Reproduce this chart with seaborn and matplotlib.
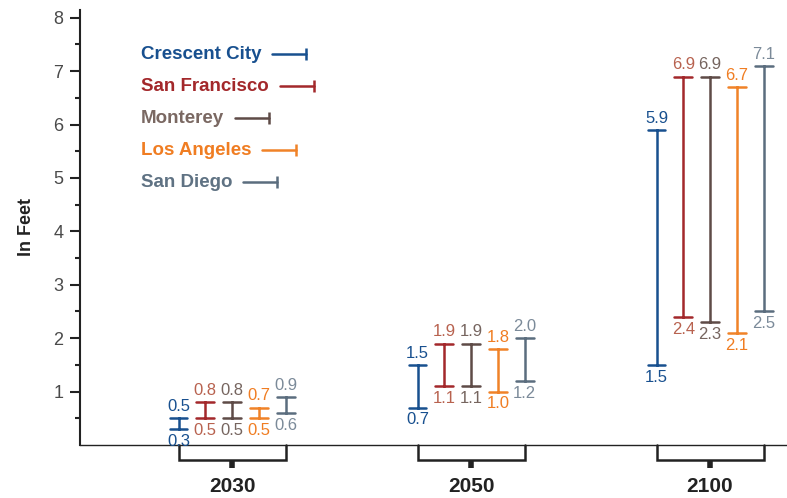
import pandas as pd
import numpy as np
import matplotlib
matplotlib.use("Agg")
import matplotlib.pyplot as plt
import seaborn as sns
from matplotlib.transforms import blended_transform_factory

sns.set_theme(style="ticks")
plt.rcParams['font.family'] = ['Liberation Sans', 'DejaVu Sans']

# data (feet of sea level rise, low / high estimate)
years = ["2030", "2050", "2100"]
cities = ["Crescent City", "San Francisco", "Monterey", "Los Angeles", "San Diego"]
low_2030 = [0.3, 0.5, 0.5, 0.5, 0.6]
high_2030 = [0.5, 0.8, 0.8, 0.7, 0.9]
low_2050 = [0.7, 1.1, 1.1, 1.0, 1.2]
high_2050 = [1.5, 1.9, 1.9, 1.8, 2.0]
low_2100 = [1.5, 2.4, 2.3, 2.1, 2.5]
high_2100 = [5.9, 6.9, 6.9, 6.7, 7.1]

line_colors = ["#18508f", "#a3282b", "#5e4b47", "#f08228", "#5b6d7e"]
value_colors = ["#18508f", "#b8624f", "#76655f", "#f07d22", "#7b8a99"]
legend_colors = ["#18508f", "#a3282b", "#7a6862", "#f07d22", "#5f7283"]

lows = {"2030": low_2030, "2050": low_2050, "2100": low_2100}
highs = {"2030": high_2030, "2050": high_2050, "2100": high_2100}

rows = []
for y in years:
    for i, c in enumerate(cities):
        rows.append({"year": y, "city": c, "value": lows[y][i]})
        rows.append({"year": y, "city": c, "value": highs[y][i]})
df = pd.DataFrame(rows)

fig = plt.figure(figsize=(7.87, 4.98), dpi=100)
ax = fig.add_axes([0.1017, 0.1064, 0.8983, 0.874])

DODGE = 0.448
sns.pointplot(data=df, x="year", y="value", hue="city", order=years,
              hue_order=cities, palette=dict(zip(cities, line_colors)),
              errorbar=lambda v: (v.min(), v.max()), dodge=DODGE,
              capsize=0.075, marker="", linestyle="none",
              err_kws={"linewidth": 1.8}, legend=False, ax=ax)

# value labels above / below each range
step = DODGE / (len(cities) - 1)
for gi, y in enumerate(years):
    for i, c in enumerate(cities):
        xpos = gi - DODGE / 2 + step * i
        ax.annotate(f"{highs[y][i]:.1f}", (xpos, highs[y][i]), xytext=(0, 3),
                    textcoords="offset points", ha="center", va="bottom",
                    fontsize=12, color=value_colors[i])
        ax.annotate(f"{lows[y][i]:.1f}", (xpos, lows[y][i]), xytext=(0, -3.5),
                    textcoords="offset points", ha="center", va="top",
                    fontsize=12, color=value_colors[i])

# brackets under each year group
trans = blended_transform_factory(ax.transData, ax.transAxes)
by = -0.034
for gi in range(len(years)):
    x0, x1 = gi - DODGE / 2, gi + DODGE / 2
    ax.plot([x0, x0, x1, x1], [0, by, by, 0], transform=trans, color="#222222",
            lw=1.8, clip_on=False, solid_joinstyle="miter")
    ax.plot([gi, gi], [by, by - 0.018], transform=trans, color="#222222",
            lw=4, clip_on=False, solid_capstyle="butt")

ax.set_xlim(-0.636, 2.322)
ax.set_ylim(0, 8.15)
ax.set_yticks(range(1, 9))
ax.set_yticks(np.arange(0.5, 8.1, 0.5), minor=True)
ax.tick_params(axis="y", which="major", length=7, width=1.5, color="#222222",
               labelsize=13, labelcolor="#4a4a4a", pad=5)
ax.tick_params(axis="y", which="minor", length=3.5, width=1.5, color="#222222")
ax.set_xticks(range(len(years)))
ax.set_xticklabels(years, fontsize=15, fontweight="bold", color="#222222")
ax.tick_params(axis="x", length=0, pad=23)
ax.set_xlabel("")
ax.set_ylabel("In Feet", fontsize=13, fontweight="bold", color="#222222", labelpad=13)

sns.despine(ax=ax)
ax.spines["left"].set_linewidth(1.5)
ax.spines["left"].set_color("#222222")
ax.spines["bottom"].set_linewidth(1.0)
ax.spines["bottom"].set_color("#222222")

# hand-made legend: city name then a short capped line
texts = []
for i, c in enumerate(cities):
    t = ax.text(0.086, 0.898 - i * 0.0736, c, transform=ax.transAxes,
                fontsize=13.5, fontweight="bold", color=legend_colors[i],
                ha="left", va="center")
    texts.append(t)
fig.canvas.draw()
renderer = fig.canvas.get_renderer()
inv = ax.transAxes.inverted()
for i, t in enumerate(texts):
    bb = t.get_window_extent(renderer)
    yc = (bb.y0 + bb.y1) / 2
    (ax0, ay), (ax1, _) = inv.transform([(bb.x1 + 11, yc), (bb.x1 + 45, yc)])
    ay = 0.898 - i * 0.0736
    ax.plot([ax0, ax1], [ay, ay], transform=ax.transAxes, color=line_colors[i],
            lw=1.8, clip_on=False)
    ax.plot([ax1], [ay], transform=ax.transAxes, marker="|", markersize=8,
            markeredgewidth=1.8, color=line_colors[i], clip_on=False)

fig.savefig("out.png", dpi=100)
